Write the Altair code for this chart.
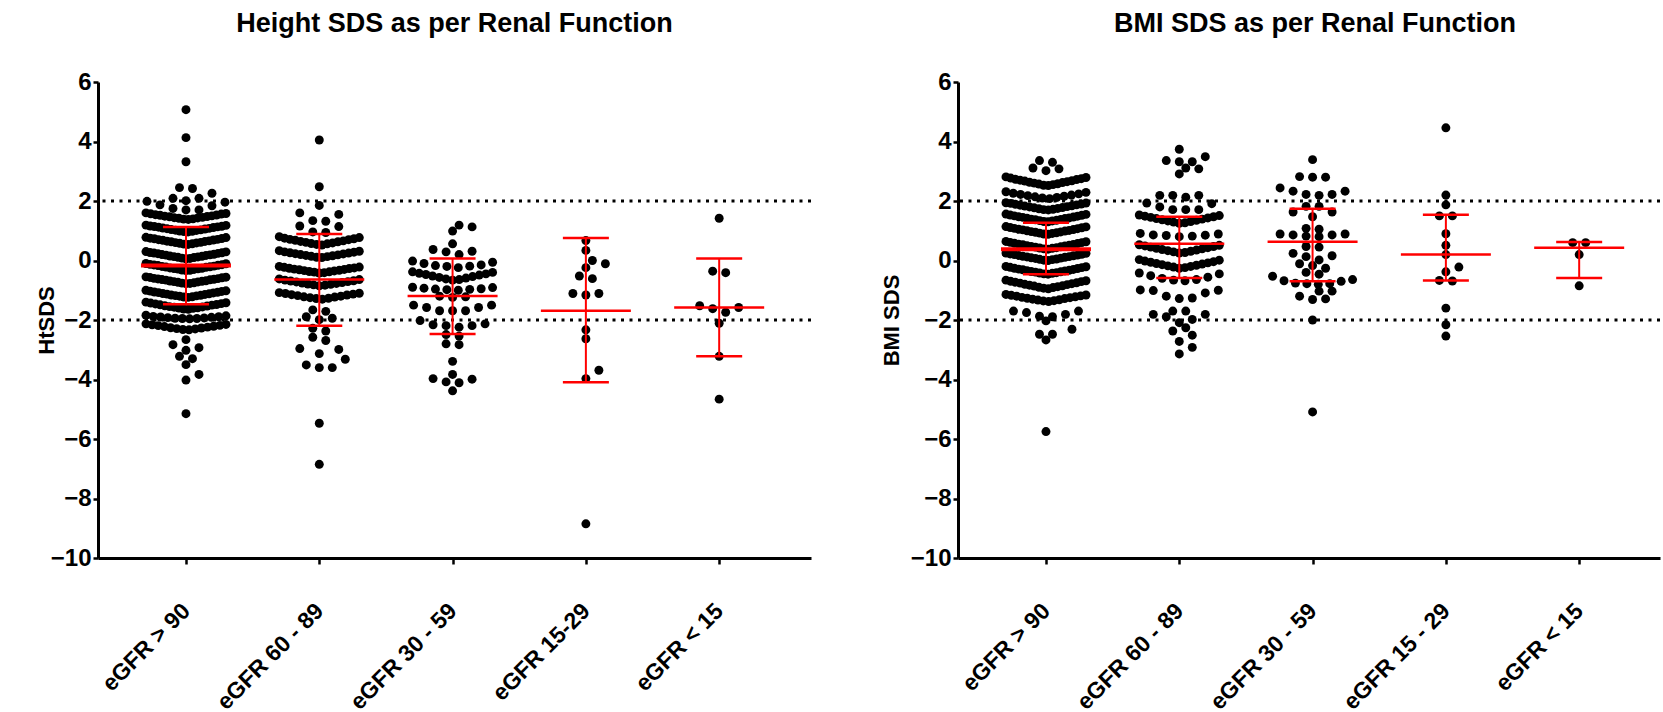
import altair as alt
import pandas as pd

# ---------------------------------------------------------------- data
cats_ht = ["eGFR > 90", "eGFR 60 - 89", "eGFR 30 - 59", "eGFR 15-29", "eGFR < 15"]
cats_bmi = ["eGFR > 90", "eGFR 60 - 89", "eGFR 30 - 59", "eGFR 15 - 29", "eGFR < 15"]

# Height SDS per eGFR group
ht_gt90 = [5.07, 4.13, 3.32, 2.45, 2.42, 2.26, 2.09, 2.09, 2.01, 1.99, 1.96, 1.87, 1.84, 1.75, 1.70, 1.70,
           1.38, 1.39, 1.40, 1.42, 1.43, 1.44, 1.45, 1.47, 1.48, 1.49, 1.50, 1.52, 1.53, 1.54, 1.56, 1.57,
           1.58, 1.60,
           0.96, 0.97, 0.98, 0.99, 1.01, 1.02, 1.03, 1.04, 1.06, 1.07, 1.08, 1.09, 1.11, 1.12, 1.13, 1.14,
           1.15, 1.16, 1.18, 1.19,
           0.54, 0.55, 0.56, 0.58, 0.59, 0.60, 0.61, 0.63, 0.64, 0.65, 0.66, 0.68, 0.69, 0.70, 0.71, 0.73,
           0.74, 0.75, 0.77, 0.78,
           0.06, 0.07, 0.08, 0.10, 0.11, 0.12, 0.13, 0.14, 0.15, 0.17, 0.18, 0.19, 0.20, 0.21, 0.23, 0.24,
           0.25, 0.26, 0.27, 0.29, 0.30,
           -0.34, -0.33, -0.32, -0.30, -0.29, -0.28, -0.27, -0.26, -0.25, -0.23, -0.22, -0.21, -0.20,
           -0.19, -0.17, -0.16, -0.15, -0.14, -0.13, -0.11, -0.10,
           -0.78, -0.77, -0.76, -0.75, -0.73, -0.72, -0.71, -0.70, -0.69, -0.68, -0.66, -0.65, -0.64,
           -0.63, -0.62, -0.61, -0.60, -0.58, -0.57, -0.56, -0.55,
           -1.24, -1.23, -1.22, -1.20, -1.19, -1.18, -1.17, -1.16, -1.14, -1.13, -1.12, -1.11, -1.09,
           -1.08, -1.07, -1.06, -1.04, -1.03, -1.02, -1.00,
           -1.64, -1.63, -1.61, -1.60, -1.59, -1.57, -1.56, -1.55, -1.53, -1.52, -1.50, -1.49, -1.48,
           -1.46, -1.45, -1.43, -1.42, -1.40,
           -1.96, -1.95, -1.95, -1.94, -1.93, -1.92, -1.91, -1.90, -1.89, -1.88, -1.86, -1.84,
           -2.33, -2.32, -2.30, -2.29, -2.27, -2.26, -2.24, -2.22, -2.21, -2.19, -2.18, -2.16, -2.15, -2.13,
           -2.66, -2.83, -2.93, -3.02, -3.22, -3.30, -3.50, -3.83, -4.02, -5.15]
ht_60_89 = [4.05, 2.48, 1.85, 1.60, 1.55, 1.34, 1.32, 1.16, 1.14, 0.96, 0.94,
            0.52, 0.54, 0.56, 0.57, 0.59, 0.61, 0.63, 0.64, 0.66, 0.68, 0.70, 0.71, 0.73, 0.75, 0.77, 0.80,
            0.10, 0.11, 0.13, 0.14, 0.16, 0.17, 0.19, 0.20, 0.22, 0.23, 0.25, 0.26, 0.28, 0.29, 0.31, 0.33,
            -0.42, -0.41, -0.39, -0.38, -0.37, -0.35, -0.34, -0.33, -0.31, -0.30, -0.29, -0.27, -0.26,
            -0.25, -0.23, -0.22, -0.20,
            -0.85, -0.83, -0.82, -0.80, -0.79, -0.77, -0.76, -0.74, -0.72, -0.71, -0.69, -0.68, -0.66,
            -0.64, -0.62,
            -1.30, -1.28, -1.27, -1.25, -1.23, -1.22, -1.20, -1.18, -1.16, -1.15, -1.13, -1.11, -1.10, -1.08,
            -1.66, -1.71, -1.89, -1.94, -1.99, -2.28, -2.37, -2.58, -2.69, -2.96, -2.99,
            -3.13, -3.32, -3.51, -3.60, -3.60, -5.47, -6.85]
ht_30_59 = [1.19, 1.13, 0.99, 0.56, 0.37, 0.31, 0.29, 0.20,
            -0.02, -0.06, -0.10, -0.15, -0.17, -0.19, -0.20, -0.24,
            -0.38, -0.40, -0.43, -0.45, -0.47, -0.49, -0.52, -0.54, -0.57, -0.59, -0.62, -0.64, -0.66,
            -0.90, -0.91, -0.93, -0.95, -0.96, -0.97, -0.98, -1.00, -1.20, -1.22, -1.24,
            -1.50, -1.50, -1.58, -1.58, -1.69, -1.69, -1.69,
            -2.02, -2.13, -2.16, -2.19, -2.19, -2.24, -2.49, -2.54, -2.80, -2.83,
            -3.39, -3.83, -3.97, -3.99, -4.08, -4.11, -4.38]
ht_15_29 = [0.67, 0.34, 0.00, -0.11, -0.24, -0.52, -0.61, -1.11, -1.11, -1.16,
            -2.33, -2.63, -3.69, -3.97, -8.85]
ht_lt15 = [1.42, -0.36, -0.41, -1.52, -1.58, -1.62, -1.74, -2.11, -3.22, -4.66]

# mean and mean +/- SD of height SDS
ht_center = [-0.17, -0.64, -1.19, -1.69, -1.58]
ht_low = [-1.47, -2.19, -2.47, -4.09, -3.22]
ht_high = [1.13, 0.89, 0.07, 0.76, 0.07]

# BMI SDS per eGFR group
bmi_gt90 = [3.36, 3.30, 3.11, 3.08, 3.02,
            2.52, 2.53, 2.55, 2.57, 2.58, 2.60, 2.62, 2.63, 2.65, 2.67, 2.68, 2.70, 2.72, 2.73, 2.75,
            2.77, 2.79, 2.81,
            2.08, 2.10, 2.12, 2.14, 2.16, 2.18, 2.20, 2.22, 2.24, 2.26, 2.29, 2.31,
            1.70, 1.71, 1.72, 1.74, 1.75, 1.77, 1.78, 1.80, 1.81, 1.83, 1.84, 1.86, 1.87, 1.89, 1.90,
            1.92, 1.93, 1.94,
            1.30, 1.31, 1.33, 1.34, 1.35, 1.37, 1.38, 1.39, 1.41, 1.42, 1.43, 1.45, 1.46, 1.47, 1.49,
            1.50, 1.52, 1.53, 1.55, 1.56,
            0.88, 0.89, 0.91, 0.92, 0.93, 0.95, 0.96, 0.97, 0.99, 1.00, 1.01, 1.03, 1.04, 1.05, 1.07,
            1.08, 1.10, 1.11, 1.13, 1.14,
            0.38, 0.39, 0.41, 0.42, 0.43, 0.45, 0.46, 0.47, 0.49, 0.50, 0.51, 0.53, 0.54, 0.55, 0.57,
            0.58, 0.60, 0.61, 0.63, 0.64,
            0.00, 0.01, 0.03, 0.04, 0.05, 0.07, 0.08, 0.09, 0.11, 0.12, 0.13, 0.14, 0.16, 0.17, 0.18,
            0.20, 0.21, 0.22, 0.24, 0.25,
            -0.46, -0.45, -0.43, -0.42, -0.41, -0.39, -0.38, -0.37, -0.35, -0.34, -0.33, -0.31, -0.30,
            -0.29, -0.27, -0.26, -0.24, -0.23, -0.21, -0.20,
            -0.95, -0.93, -0.91, -0.90, -0.88, -0.86, -0.85, -0.83, -0.81, -0.80, -0.78, -0.76, -0.75,
            -0.73, -0.71, -0.70, -0.68, -0.66,
            -1.38, -1.36, -1.35, -1.33, -1.32, -1.30, -1.28, -1.27, -1.25, -1.24, -1.22, -1.20, -1.19,
            -1.17, -1.16, -1.14,
            -1.70, -1.70, -1.75, -1.81, -1.87, -1.89, -2.03, -2.31, -2.48, -2.48, -2.67, -5.75]
bmi_60_89 = [3.74, 3.49, 3.36, 3.32, 3.32, 3.11, 3.08, 2.91,
             2.19, 2.19, 2.19, 2.13, 1.93, 1.91, 1.80, 1.71, 1.71, 1.71,
             1.25, 1.27, 1.29, 1.31, 1.33, 1.35, 1.37, 1.39, 1.41, 1.43, 1.45, 1.47, 1.49, 1.51, 1.53,
             0.80, 0.82, 0.84, 0.85, 0.86, 0.89, 0.91,
             0.25, 0.27, 0.29, 0.31, 0.33, 0.35, 0.37, 0.39, 0.41, 0.43, 0.45, 0.47, 0.49, 0.51, 0.53,
             -0.26, -0.24, -0.22, -0.20, -0.18, -0.16, -0.14, -0.12, -0.10, -0.08, -0.06, -0.04, -0.02,
             0.01, 0.03,
             -0.68, -0.66, -0.64, -0.60, -0.56, -0.51, -0.45, -0.42,
             -1.28, -1.26, -1.20, -1.09, -1.01, -1.00, -0.99,
             -1.70, -1.70, -1.81, -1.81, -1.89, -1.98, -2.09, -2.26, -2.37, -2.51, -2.72, -2.92, -3.14]
bmi_30_59 = [3.39, 2.82, 2.80, 2.80, 2.44, 2.33, 2.33, 2.22, 2.22, 2.19, 1.82, 1.82, 1.63, 1.63,
             1.47, 1.08, 1.05, 0.89, 0.89, 0.86, 0.86, 0.82, 0.80, 0.47, 0.45, 0.24, 0.16, 0.13,
             0.02, -0.11, -0.17, -0.26, -0.40, -0.46, -0.53, -0.64, -0.68, -0.70, -0.76, -0.78,
             -0.78, -0.80, -1.03, -1.03, -1.20, -1.29, -1.31, -2.00, -5.09]
bmi_15_29 = [4.46, 2.20, 1.87, 1.50, 1.50, 0.90, 0.51, 0.20, -0.22, -0.38, -0.67, -0.69,
             -1.60, -2.16, -2.54]
bmi_lt15 = [0.60, 0.60, 0.20, -0.85]

# median and interquartile range of BMI SDS
bmi_center = [0.38, 0.56, 0.63, 0.20, 0.43]
bmi_low = [-0.46, -0.59, -0.70, -0.67, -0.59]
bmi_high = [1.27, 1.47, 1.74, 1.54, 0.62]

# ---------------------------------------------------------------- layout
PLOT_H = 476
PX_PER_SDS = PLOT_H / 16.0      # y domain -10..6
PX_PER_CAT = 133.3              # distance between group centres
X_MIN = 0.34
LEFT_W = 713
RIGHT_W = 702

MEAN_HALF = 45 / PX_PER_CAT     # half width of the centre line
CAP_HALF = 23 / PX_PER_CAT      # half width of the whisker caps

FONT = "Liberation Sans"


def swarm(values, row_span=0.30, row_gap=0.12, row_width=80.0, step_max=13.0, min_dist=8.5):
    """Column-scatter layout: values are grouped into rows, each row is spread
    sideways from the centre (lowest value in the middle). Short rows also dodge
    dots of earlier rows, without leaving the column. Returns (value, x px)."""
    vals = sorted(values)
    rows = []
    for v in vals:
        if rows and v - rows[-1][0] <= row_span + 1e-9 and v - rows[-1][-1] <= row_gap + 1e-9:
            rows[-1].append(v)
        else:
            rows.append([v])
    half = row_width / 2 + 1
    placed, out = [], []
    for row in rows:
        n = len(row)
        step = step_max if n == 1 else min(step_max, row_width / (n - 1))
        if n % 2:
            slots = [0.0] + [s * k * step for k in range(1, 40) for s in (1, -1)]
        else:
            slots = [s * (k - 0.5) * step for k in range(1, 40) for s in (1, -1)]
        if n > 4:
            chosen = slots[:n]
        else:
            free = [x for x in slots if abs(x) <= half]
            chosen = []
            for v in row:
                y = v * PX_PER_SDS
                best, best_d = None, -1.0
                for x in free:
                    if x in chosen:
                        continue
                    d = min([((x - px) ** 2 + (y - py) ** 2) ** 0.5 for px, py in placed] or [1e9])
                    if d >= min_dist:
                        best = x
                        break
                    if d > best_d:
                        best, best_d = x, d
                chosen.append(best)
        mine = []
        for v, x in zip(row, chosen):
            mine.append((x, v * PX_PER_SDS))
            out.append((v, x))
        placed.extend(mine)
    return out


def panel(title, ytitle, cats, groups, center, low, high, width, title_dx, ytitle_x):
    recs = []
    for g, vals in enumerate(groups, start=1):
        for v, off in swarm(vals):
            recs.append({"x": g + off / PX_PER_CAT, "v": v})
    pts = pd.DataFrame(recs)

    stats = pd.DataFrame({"cat": [1, 2, 3, 4, 5], "center": center, "low": low, "high": high})
    caps = pd.DataFrame({"cat": [1, 2, 3, 4, 5] * 2, "v": list(low) + list(high)})
    guides = pd.DataFrame({"v": [-2, 2]})

    x_max = X_MIN + width / PX_PER_CAT
    xs = alt.Scale(domain=[X_MIN, x_max], nice=False, zero=False)
    ys = alt.Scale(domain=[-10, 6], nice=False, zero=False)
    label_expr = "[" + ",".join("'%s'" % c for c in cats) + "][datum.value - 1]"
    x_axis = alt.Axis(values=[1, 2, 3, 4, 5], labelExpr=label_expr, title=None, grid=False,
                      labelAngle=-45, labelAlign="right", labelBaseline="middle",
                      labelFontSize=23, labelPadding=43, tickSize=6, labelOverlap=False)
    y_axis = alt.Axis(values=list(range(-10, 7, 2)), title=ytitle, grid=False,
                      labelFontSize=24, tickSize=5, labelPadding=2,
                      titleX=ytitle_x, titleY=PLOT_H / 2, titleAngle=270, titleBaseline="middle",
                      titleAlign="center", titleFontSize=22)

    X = lambda f: alt.X(f, type="quantitative", scale=xs, axis=x_axis)
    Y = lambda f: alt.Y(f, type="quantitative", scale=ys, axis=y_axis)

    dotted = alt.Chart(guides).mark_rule(color="black", strokeWidth=3, strokeDash=[3, 5.5]).encode(
        y=Y("v"))
    dots = alt.Chart(pts).mark_circle(color="black", opacity=1, size=80).encode(x=X("x"), y=Y("v"))
    whisker = alt.Chart(stats).mark_rule(color="#ff0000", strokeWidth=2).encode(
        x=X("cat"), y=Y("low"), y2="high")
    centre = alt.Chart(stats).transform_calculate(
        a="datum.cat - %f" % MEAN_HALF, b="datum.cat + %f" % MEAN_HALF
    ).mark_rule(color="#ff0000").encode(
        x=X("a"), x2="b", y=Y("center"),
        strokeWidth=alt.condition("datum.cat == 1", alt.value(4), alt.value(2.5)))
    cap = alt.Chart(caps).transform_calculate(
        a="datum.cat - %f" % CAP_HALF, b="datum.cat + %f" % CAP_HALF
    ).mark_rule(color="#ff0000", strokeWidth=2.5).encode(x=X("a"), x2="b", y=Y("v"))

    return alt.layer(dots, dotted, whisker, centre, cap).properties(
        width=width, height=PLOT_H,
        title=alt.TitleParams(title, fontSize=27, font=FONT, fontWeight="bold", color="black",
                              anchor="middle", offset=32, dx=title_dx))


left = panel("Height SDS as per Renal Function", "HtSDS", cats_ht,
             [ht_gt90, ht_60_89, ht_30_59, ht_15_29, ht_lt15],
             ht_center, ht_low, ht_high, LEFT_W, 0, -52)
right = panel("BMI SDS as per Renal Function", "BMI SDS", cats_bmi,
              [bmi_gt90, bmi_60_89, bmi_30_59, bmi_15_29, bmi_lt15],
              bmi_center, bmi_low, bmi_high, RIGHT_W, 6, -67)

chart = alt.hconcat(left, right, spacing=67).properties(
    padding={"left": 35, "top": 10, "right": 0, "bottom": 0},
    background="white",
).configure_view(stroke=None).configure_axis(
    domainColor="black", domainWidth=3, tickColor="black", tickWidth=2.5,
    labelFont=FONT, labelFontWeight="bold", labelColor="black",
    titleFont=FONT, titleFontWeight="bold", titleColor="black",
)

chart.save("out.html", embed_options={"renderer": "svg", "actions": False})
